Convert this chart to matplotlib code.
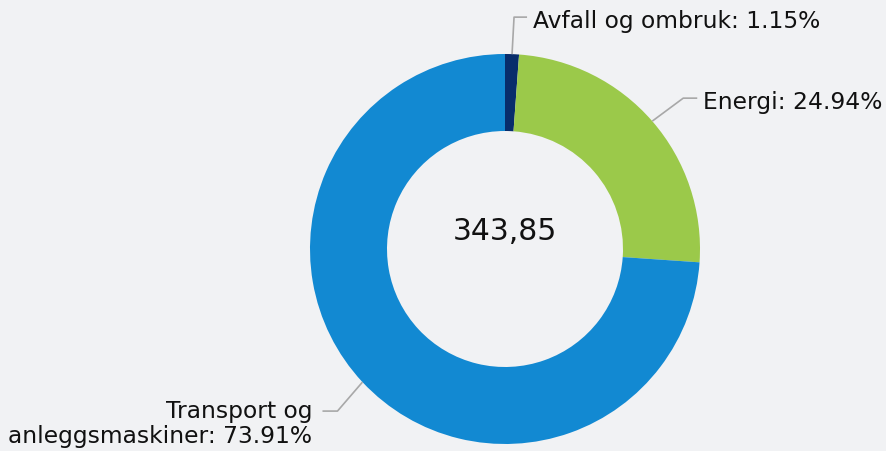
import numpy as np
import matplotlib
matplotlib.use("Agg")
import matplotlib.pyplot as plt

labels = ["Avfall og ombruk", "Energi", "Transport og\nanleggsmaskiner"]
shares = [1.15, 24.94, 73.91]
colors = ["#082d6b", "#9bc94a", "#1289d2"]
total_text = "343,85"

bg = "#f1f2f4"
W, H = 886, 452
fig = plt.figure(figsize=(W / 100, H / 100), dpi=100, facecolor=bg)
ax = fig.add_axes([0, 0, 1, 1])

cx, cy, r = 505, 202, 195
wedges, _ = ax.pie(shares, colors=colors, startangle=90, counterclock=False,
                   center=(cx, cy), radius=r, frame=True,
                   wedgeprops=dict(width=77, edgecolor="none"))
ax.set_xlim(0, W)
ax.set_ylim(0, H)
ax.axis("off")

ax.text(cx, cy + 18, total_text, ha="center", va="center", fontsize=21.5,
        color="#111111")

# leader lines: (elbow dx, elbow dy, horizontal length) per slice
leaders = [(2, 37, 13), (31, 23, 14), (-25, -29, -15)]
for w, lab, val, (ex, ey, hl) in zip(wedges, labels, shares, leaders):
    ang = np.deg2rad((w.theta1 + w.theta2) / 2)
    x0, y0 = cx + r * np.cos(ang), cy + r * np.sin(ang)
    x1, y1 = x0 + ex, y0 + ey
    x2 = x1 + hl
    ax.plot([x0, x1, x2], [y0, y1, y1], color="#a8a8a8", lw=1.2,
            solid_capstyle="butt")
    ha = "left" if hl > 0 else "right"
    tx = x2 + (6 if hl > 0 else -10)
    va = "center" if "\n" not in lab else "top"
    ty = y1 - 3 if va == "center" else y1 + 12
    ax.text(tx, ty, f"{lab}: {val:.2f}%", ha=ha, va=va, fontsize=16.8,
            color="#111111", linespacing=1.12)

fig.savefig("out.png", dpi=100, facecolor=bg)
